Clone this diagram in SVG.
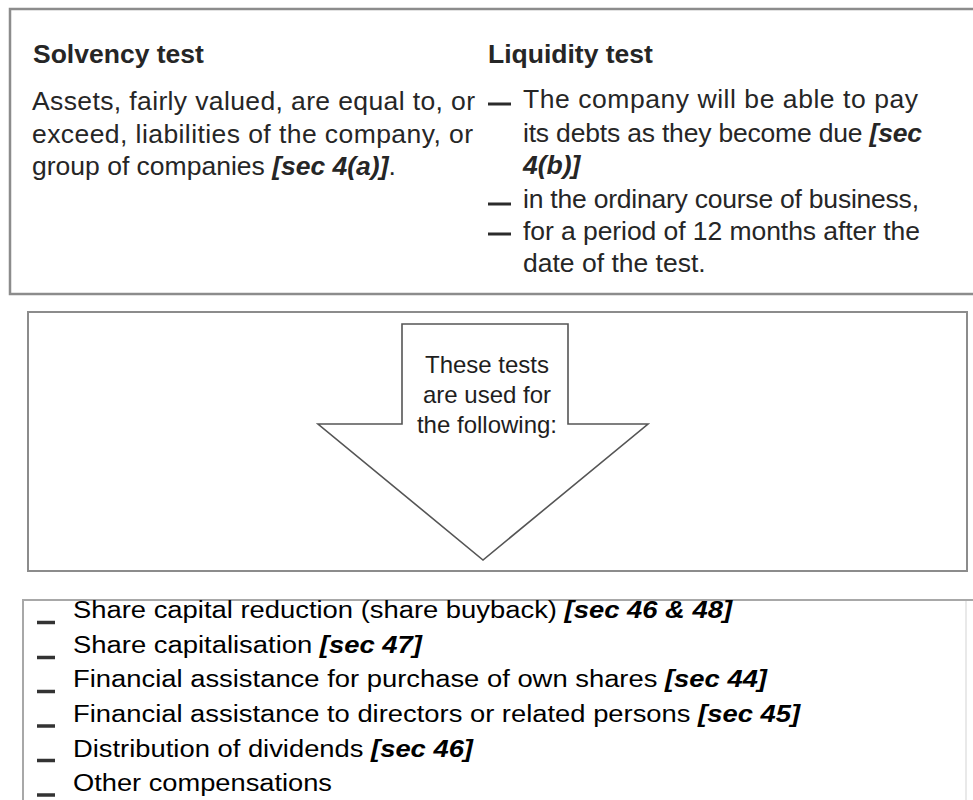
<svg xmlns="http://www.w3.org/2000/svg" width="973" height="800" viewBox="0 0 973 800">
<style>
.box{fill:#fff;stroke:#8c8c8c;stroke-width:2.5}
.box2{fill:#fff;stroke:#8c8c8c;stroke-width:2}
.box3{fill:#fff;stroke:#a8a8a8;stroke-width:2}
.edge{stroke:#e2e2e2;stroke-width:1.5}
.t{font-family:"Liberation Sans",Arial,sans-serif;fill:#262626}
.h{font-size:26.5px;font-weight:bold}
.b{font-size:26.5px}
.bi{font-weight:bold;font-style:italic}
.a{font-family:"Liberation Sans",Arial,sans-serif;font-size:24px;fill:#1e1e1e;text-anchor:middle}
.l{font-family:"Liberation Sans",Arial,sans-serif;font-size:23px;fill:#000}
.dash{stroke:#2b2b2b;stroke-width:3}
.dash2{stroke:#333;stroke-width:3.5}
</style>
<rect width="973" height="800" fill="#fff"/>
<g id="tests-box">
<rect class="box" x="10" y="9" width="970" height="285"/>
<text class="t h" x="33" y="63">Solvency test</text>
<text class="t b" x="32" y="110" textLength="443" lengthAdjust="spacing">Assets, fairly valued, are equal to, or</text>
<text class="t b" x="32" y="143" textLength="441" lengthAdjust="spacing">exceed, liabilities of the company, or</text>
<text class="t b" x="32" y="175">group of companies <tspan class="bi">[sec 4(a)]</tspan>.</text>
<text class="t h" x="488" y="63">Liquidity test</text>
<line class="dash" x1="488" y1="104" x2="511" y2="104"/>
<text class="t b" x="523" y="108" textLength="395" lengthAdjust="spacing">The company will be able to pay</text>
<text class="t b" x="523" y="142" textLength="399" lengthAdjust="spacing">its debts as they become due <tspan class="bi">[sec</tspan></text>
<text class="t b bi" x="523" y="174">4(b)]</text>
<line class="dash" x1="488" y1="204" x2="511" y2="204"/>
<text class="t b" x="523" y="208" textLength="396" lengthAdjust="spacing">in the ordinary course of business,</text>
<line class="dash" x1="488" y1="234" x2="511" y2="234"/>
<text class="t b" x="523" y="240" textLength="397" lengthAdjust="spacing">for a period of 12 months after the</text>
<text class="t b" x="523" y="272">date of the test.</text>
</g>
<g id="arrow-box">
<rect class="box2" x="28" y="312" width="939" height="259"/>
</g>
<g id="arrow-node">
<polygon points="402,324 568,324 568,424 648,424 483,560 318,424 402,424" fill="#fff" stroke="#555" stroke-width="1.6" stroke-linejoin="miter"/>
<text class="a" x="487" y="373">These tests</text>
<text class="a" x="487" y="403">are used for</text>
<text class="a" x="487" y="433">the following:</text>
</g>
<g id="uses-list">
<path class="box3" d="M975,600 H23 V820"/>
<line class="edge" x1="966" y1="601" x2="966" y2="800"/>
<line class="dash2" x1="37" y1="622.5" x2="55" y2="622.5"/>
<text class="l" x="73" y="617.5" textLength="659" lengthAdjust="spacingAndGlyphs">Share capital reduction (share buyback) <tspan class="bi">[sec 46 &amp; 48]</tspan></text>
<line class="dash2" x1="37" y1="657.5" x2="55" y2="657.5"/>
<text class="l" x="73" y="652.5" textLength="349" lengthAdjust="spacingAndGlyphs">Share capitalisation <tspan class="bi">[sec 47]</tspan></text>
<line class="dash2" x1="37" y1="691.5" x2="55" y2="691.5"/>
<text class="l" x="73" y="687" textLength="694" lengthAdjust="spacingAndGlyphs">Financial assistance for purchase of own shares <tspan class="bi">[sec 44]</tspan></text>
<line class="dash2" x1="37" y1="726" x2="55" y2="726"/>
<text class="l" x="73" y="721.5" textLength="727" lengthAdjust="spacingAndGlyphs">Financial assistance to directors or related persons <tspan class="bi">[sec 45]</tspan></text>
<line class="dash2" x1="37" y1="760.5" x2="55" y2="760.5"/>
<text class="l" x="73" y="756.5" textLength="400" lengthAdjust="spacingAndGlyphs">Distribution of dividends <tspan class="bi">[sec 46]</tspan></text>
<line class="dash2" x1="37" y1="795" x2="55" y2="795"/>
<text class="l" x="73" y="791" textLength="259" lengthAdjust="spacingAndGlyphs">Other compensations</text>
</g>
<g id="connectors"></g>
</svg>
